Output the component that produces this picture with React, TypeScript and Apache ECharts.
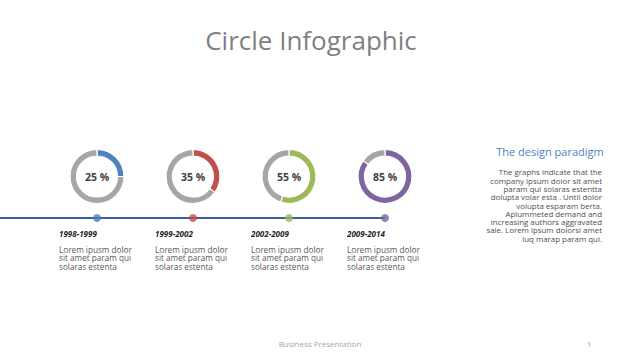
import React, { useEffect, useRef } from "react";
import * as echarts from "echarts";

const periods = ["1998-1999", "1999-2002", "2002-2009", "2009-2014"];
const percents = [25, 35, 55, 85];
const descLines = ["Lorem ipusm dolor", "sit amet param qui", "solaras estenta"];
const title = "Circle Infographic";
const sideHeading = "The design paradigm";
const sideLines = [
  "The graphs indicate that the",
  "company ipsum dolor sit amet",
  "param qui solaras estentta",
  "dolupta volar esta . Until dolor",
  "volupta esparam berta.",
  "Aplummeted demand and",
  "increasing authors aggravated",
  "sale. Lorem ipsum dolorsi amet",
  "iuq marap param qui.",
];
const footer = "Business Presentation";
const pageNo = "1";

const colors = ["#4f81bd", "#c0504d", "#9bbb59", "#8064a2"];
const GRAY = "#a6a6a6";
const FONT = "Open Sans";
const X0 = 97;
const STEP = 96;
const W = 640;
const LINE_Y = 218;

export default function App() {
  const ref = useRef<HTMLDivElement>(null);
  useEffect(() => {
    if (!ref.current) return;
    const chart = echarts.init(ref.current, null, { renderer: "svg" });
    const xMin = -X0 / STEP;
    const xMax = xMin + W / STEP;
    const pies: any[] = percents.map((p, i) => ({
      type: "pie",
      silent: true,
      radius: [20.5, 27],
      center: [X0 + i * STEP, 176.5],
      startAngle: 90,
      clockwise: true,
      labelLine: { show: false },
      itemStyle: { borderColor: "#fff", borderWidth: 1.2 },
      data: [
        {
          value: p,
          itemStyle: { color: colors[i] },
          label: {
            show: true,
            position: "center",
            formatter: "{c} %",
            fontFamily: FONT,
            fontSize: 10.5,
            fontWeight: "bold",
            color: "#404040",
          },
        },
        { value: 100 - p, itemStyle: { color: GRAY }, label: { show: false } },
      ],
    }));
    const graphics: any[] = [];
    graphics.push({
      type: "text",
      x: 311,
      y: 40,
      style: {
        text: title,
        font: `26px '${FONT}'`,
        fill: "#7f7f7f",
        align: "center",
        verticalAlign: "middle",
      },
    });
    periods.forEach((per, i) => {
      const x = X0 + i * STEP - 38;
      graphics.push({
        type: "text",
        x,
        y: 233.5,
        style: {
          text: per,
          font: `italic bold 8px '${FONT}'`,
          fill: "#262626",
          verticalAlign: "middle",
          lineHeight: 9,
        },
      });
      descLines.forEach((l, j) => {
        graphics.push({
          type: "text",
          x,
          y: 249 + j * 8.6,
          style: {
            text: l,
            font: `8.2px '${FONT}'`,
            fill: "#595959",
            verticalAlign: "middle",
            lineHeight: 8.4,
          },
        });
      });
    });
    graphics.push({
      type: "text",
      x: 550,
      y: 151,
      style: {
        text: sideHeading,
        font: `11px '${FONT}'`,
        fill: "#4f7fc4",
        align: "center",
        verticalAlign: "middle",
      },
    });
    sideLines.forEach((l, j) => {
      graphics.push({
        type: "text",
        x: 602,
        y: 172.3 + j * 8.3,
        style: {
          text: l,
          font: `7.9px '${FONT}'`,
          fill: "#505050",
          align: "right",
          verticalAlign: "middle",
          lineHeight: 8,
        },
      });
    });
    graphics.push({
      type: "text",
      x: 320,
      y: 343,
      style: {
        text: footer,
        font: `8px '${FONT}'`,
        fill: "#a6a6a6",
        align: "center",
        verticalAlign: "middle",
      },
    });
    graphics.push({
      type: "text",
      x: 589,
      y: 343,
      style: {
        text: pageNo,
        font: `8px '${FONT}'`,
        fill: "#a6a6a6",
        align: "center",
        verticalAlign: "middle",
      },
    });

    chart.setOption({
      animation: false,
      backgroundColor: "#ffffff",
      grid: { left: 0, right: 0, top: LINE_Y - 10, height: 20 },
      xAxis: { type: "value", min: xMin, max: xMax, show: false },
      yAxis: { type: "value", min: -1, max: 1, show: false },
      series: [
        {
          type: "line",
          silent: true,
          symbol: "none",
          lineStyle: { color: "#3e5d9a", width: 2 },
          data: [[xMin, 0], ...percents.map((_, i) => [i, 0])],
          z: 1,
        },
        {
          type: "scatter",
          silent: true,
          symbolSize: 8,
          data: percents.map((_, i) => ({
            value: [i, 0],
            itemStyle: { color: colors[i] },
          })),
          z: 2,
        },
        ...pies,
      ],
      graphic: graphics,
    });
    return () => chart.dispose();
  }, []);
  return (
    <div
      ref={ref}
      style={{ position: "absolute", left: 0, top: 0, width: 640, height: 360 }}
    />
  );
}
